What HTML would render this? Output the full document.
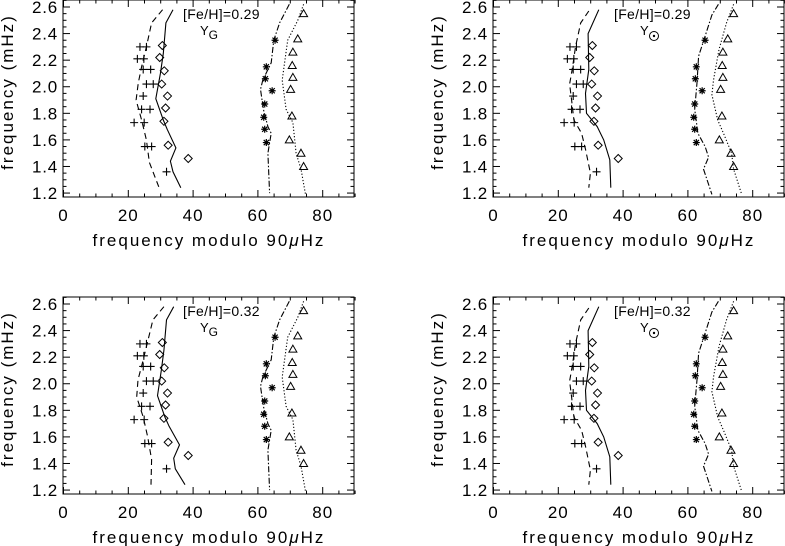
<!DOCTYPE html>
<html><head><meta charset="utf-8"><style>
html,body{margin:0;padding:0;background:#fff;}
svg{display:block;font-family:"Liberation Sans",sans-serif;}
</style></head><body>
<svg id="fig" width="785" height="546" viewBox="0 0 785 546" xmlns="http://www.w3.org/2000/svg"></svg>
<script>
// observations (shared across panels)
const plusX=[25.6,23.6,22.8,24.8,24.6,26.9,25.6,27.7,24.6,24.1,26.7,21.8,24.9,25.1,27.2,31.8];
const plusY=[2.30,2.30,2.21,2.21,2.13,2.13,2.02,2.02,1.93,1.83,1.83,1.73,1.73,1.55,1.55,1.36];
const diamX=[30.5,29.7,31.1,30.3,32.1,31.5,31.0,32.3,38.5];
const diamY=[2.31,2.22,2.12,2.02,1.93,1.84,1.74,1.56,1.46];
const astX=[65.3,62.6,62.3,64.4,62.1,61.8,62.1,62.6];
const astY=[2.35,2.15,2.06,1.97,1.87,1.77,1.68,1.58];
const triX=[74.1,72.3,70.8,70.6,70.8,70.1,70.5,69.7,73.3,74.1];
const triY=[2.55,2.36,2.26,2.16,2.07,1.98,1.78,1.60,1.50,1.40];
// models, Y_G
const gDashX=[30.6,27.2,25.6,24.1,23.1,22.4,24.1,25.6,26.5,29.5];
const gDashY=[2.58,2.48,2.30,2.15,2.03,1.90,1.75,1.60,1.43,1.24];
const gSolX=[33.8,31.6,30.8,29.9,28.5,30.8,32,34.7,33,33.8,36.2];
const gSolY=[2.58,2.48,2.25,2.10,1.91,1.75,1.68,1.54,1.44,1.36,1.24];
const gDdX=[69.7,66.7,64.9,64.1,61.5,60.8,61.7,63.1,64.1,63.1,63.6];
const gDdY=[2.62,2.48,2.35,2.18,2.05,1.98,1.83,1.70,1.65,1.50,1.20];
const gDotX=[74.1,72.3,69.2,67.5,68.7,70.8,71.8,73.3,74.7];
const gDotY=[2.62,2.50,2.35,2.05,1.83,1.73,1.50,1.38,1.19];
// models, Y_sun
const sDashX=[29.4,26.9,25.3,24.3,23.5,24.1,24.8,27.2,28.4,29.9,29.4];
const sDashY=[2.57,2.48,2.30,2.13,2.02,1.90,1.75,1.65,1.53,1.35,1.24];
const sSolX=[32.5,29.2,29.4,28.4,28.7,32,34,35.9,36.2];
const sSolY=[2.58,2.40,2.13,1.95,1.80,1.70,1.60,1.45,1.24];
const sDdX=[69.4,67.4,65.3,63.3,62.8,62.1,63.1,65.3,66.4,64.8,67.4];
const sDdY=[2.62,2.54,2.38,2.23,2.03,1.83,1.65,1.55,1.47,1.38,1.19];
const sDotX=[74.1,71.9,69.6,67.9,67.4,69.2,71,73.5,74.1,76.6];
const sDotY=[2.62,2.48,2.28,2.05,1.94,1.75,1.65,1.50,1.38,1.19];
// bottom-left variant (slightly shifted)
const bSolX=[34.0,31.8,31.0,30.2,29.0,31.3,32.6,35.8,34.0,34.5,37.5];
const bDashX=[31.0,27.6,25.8,24.3,23.0,22.6,24.6,26.0,27.2,27.0,30.7];
const xTicks=[0,20,40,60,80];
const yTicks=[1.2,1.4,1.6,1.8,2.0,2.2,2.4,2.6];
const panels=[
 {ox:63,oy:0,fe:"0.29",sun:false,dash:[gDashX,gDashY],sol:[gSolX,gSolY],dd:[gDdX,gDdY],dot:[gDotX,gDotY]},
 {ox:493,oy:0,fe:"0.29",sun:true,dash:[sDashX,sDashY],sol:[sSolX,sSolY],dd:[sDdX,sDdY],dot:[sDotX,sDotY]},
 {ox:63,oy:297,fe:"0.32",sun:false,dash:[bDashX,gDashY],sol:[bSolX,gSolY],dd:[gDdX,gDdY],dot:[gDotX,gDotY]},
 {ox:493,oy:297,fe:"0.32",sun:true,dash:[sDashX,sDashY],sol:[sSolX,sSolY],dd:[sDdX,sDdY],dot:[sDotX,sDotY]}
];
const NS="http://www.w3.org/2000/svg";
const svg=document.getElementById('fig');
function mk(t,a,p){const e=document.createElementNS(NS,t);for(const k in a)e.setAttribute(k,a[k]);(p||svg).appendChild(e);return e;}
const W=291,H=197,XS=3.24,YS=132.9;
panels.forEach((P,i)=>{
 const g=mk('g',{});
 
 
 const X=v=>P.ox+0.5+v*XS, Y=v=>P.oy+7+(2.6-v)*YS;
 const box=mk('rect',{x:P.ox,y:P.oy,width:W,height:H,fill:'none',stroke:'#000','stroke-width':1},g);
 
 
 const B=P.oy+H;
 for(let v=0;v<=90;v+=5){const x=X(v),L=v%20===0?7:3.5;
  mk('line',{x1:x,x2:x,y1:B,y2:B-L,stroke:'#000'},g);mk('line',{x1:x,x2:x,y1:P.oy,y2:P.oy+L,stroke:'#000'},g);}
 for(let k=0;k<=30;k++){const v=1.15+k*0.05;const y=Y(v);if(y<P.oy||y>B)continue;
  const L=(Math.round(v*100)%20===0)?7:3.5;
  mk('line',{x1:P.ox,x2:P.ox+L,y1:y,y2:y,stroke:'#000'},g);mk('line',{x1:P.ox+W,x2:P.ox+W-L,y1:y,y2:y,stroke:'#000'},g);}
 xTicks.forEach(v=>{const t=mk('text',{x:X(v),y:B+24,'text-anchor':'middle','font-size':17,'letter-spacing':1},g);t.textContent=v;
  });
 yTicks.forEach(v=>{const t=mk('text',{x:P.ox-5,y:Y(v)+6,'text-anchor':'end','font-size':17,'letter-spacing':0.8},g);t.textContent=v.toFixed(1);
  });
 const xt=mk('text',{x:P.ox+146,y:B+49,'text-anchor':'middle','font-size':17,'letter-spacing':2},g);
 xt.innerHTML='frequency modulo 90<tspan font-style="italic">μ</tspan>Hz';
 
 const yt=mk('text',{x:0,y:0,'text-anchor':'middle','font-size':17,'letter-spacing':2,transform:`translate(${P.ox-50},${P.oy+92}) rotate(-90)`},g);
 yt.textContent='frequency (mHz)';
 
 const ax=P.sun?P.ox+121:P.ox+120;
 const a1=mk('text',{x:ax,y:P.oy+19,'font-size':14,'letter-spacing':0.3},g);a1.textContent='[Fe/H]='+P.fe;
 
 const a2=mk('text',{x:ax+(P.sun?26:17),y:P.oy+35,'font-size':13},g);
 a2.innerHTML=P.sun?'Y':'Y<tspan font-size="12" dy="4">G</tspan>';
 
 if(P.sun){const cx=ax+40,cy=P.oy+36;mk('circle',{cx:cx,cy:cy,r:4.5,fill:'none',stroke:'#000'},g);mk('circle',{cx:cx,cy:cy,r:1.2,fill:'#000'},g);}
 const lines=[[P.dash,'6,4','dashed-model'],[P.sol,'','solid-model'],[P.dd,'6,2,1.5,2','dashdot-model'],[P.dot,'1.2,2','dotted-model']];
 lines.forEach(([d,da,nm])=>{const pts=d[0].map((v,j)=>X(v).toFixed(1)+','+Y(d[1][j]).toFixed(1)).join(' ');
  const pl=mk('polyline',{points:pts,fill:'none',stroke:'#000','stroke-width':1.1,'stroke-dasharray':da},g);
  });
 plusX.forEach((v,j)=>{const x=X(v),y=Y(plusY[j]);const p=mk('path',{d:`M${x-4},${y}H${x+4}M${x},${y-4}V${y+4}`,stroke:'#000','stroke-width':1.1},g);
  });
 diamX.forEach((v,j)=>{const x=X(v),y=Y(diamY[j]);const p=mk('path',{d:`M${x},${y-4}L${x+4},${y}L${x},${y+4}L${x-4},${y}Z`,fill:'none',stroke:'#000'},g);
  });
 astX.forEach((v,j)=>{const x=X(v),y=Y(astY[j]);const p=mk('path',{d:`M${x-3.5},${y}H${x+3.5}M${x},${y-3.5}V${y+3.5}M${x-2.6},${y-2.6}L${x+2.6},${y+2.6}M${x-2.6},${y+2.6}L${x+2.6},${y-2.6}`,stroke:'#000','stroke-width':1.2},g);
  });
 triX.forEach((v,j)=>{const x=X(v),y=Y(triY[j]);const p=mk('path',{d:`M${x},${y-4}L${x+4},${y+3}L${x-4},${y+3}Z`,fill:'none',stroke:'#000'},g);
  });
});
</script>
</body></html>
